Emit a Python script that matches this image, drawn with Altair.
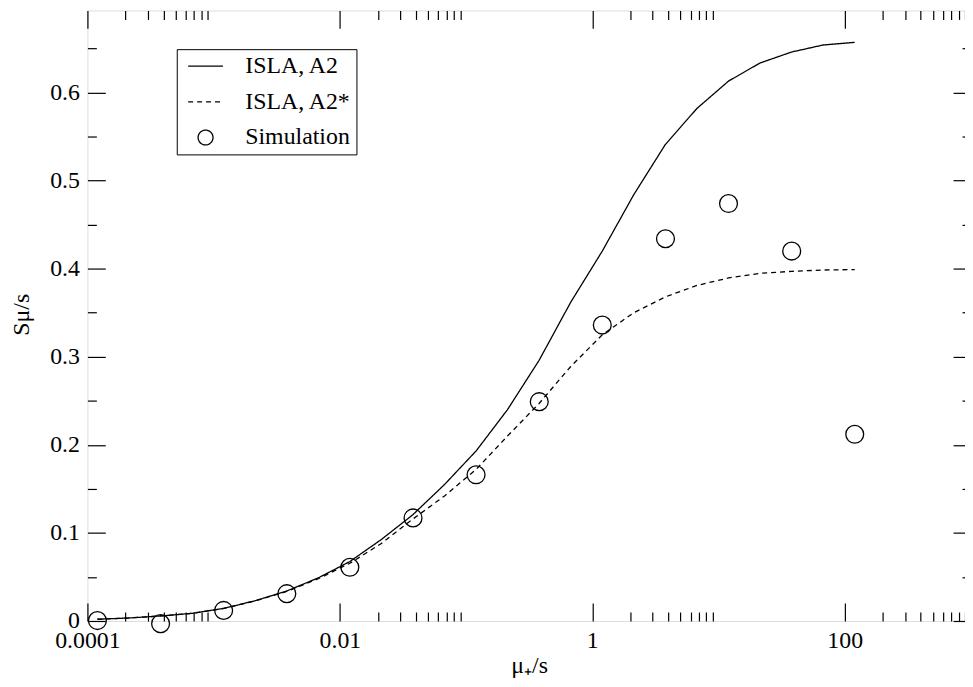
import altair as alt
import pandas as pd

# ---- data ----
x_grid = [0.00012, 0.000213, 0.000379, 0.000675, 0.0012, 0.00213, 0.00379, 0.00675,
          0.012, 0.0213, 0.0379, 0.0675, 0.12, 0.213, 0.379, 0.675,
          1.2, 2.13, 3.79, 6.75, 12, 21.3, 37.9, 67.5, 120]
isla_a2 = [0.002, 0.0034, 0.0057, 0.0087, 0.0143, 0.023, 0.034, 0.049,
           0.0675, 0.0925, 0.1207, 0.155, 0.193, 0.240, 0.296, 0.362,
           0.420, 0.484, 0.541, 0.582, 0.613, 0.6335, 0.646, 0.654, 0.657]
isla_a2_star = [0.002, 0.0034, 0.0057, 0.0087, 0.0142, 0.0228, 0.0335, 0.048,
                0.0655, 0.088, 0.1158, 0.142, 0.172, 0.210, 0.247, 0.289,
                0.325, 0.350, 0.368, 0.381, 0.3895, 0.3947, 0.397, 0.3985, 0.399]
sim_x = [0.00012, 0.00038, 0.0012, 0.0038, 0.012, 0.038, 0.12, 0.38, 1.2, 3.8, 12, 38, 120]
sim_y = [0.0005, -0.003, 0.012, 0.031, 0.061, 0.117, 0.166, 0.249, 0.336, 0.434, 0.474, 0.42, 0.212]

names = ["ISLA, A2", "ISLA, A2*", "Simulation"]

x_major = [0.0001, 0.01, 1, 100]
x_minor = [0.0002, 0.0003, 0.0004, 0.0005, 0.0006, 0.0007, 0.0008, 0.0009,
           0.02, 0.03, 0.04, 0.05, 0.06, 0.07, 0.08, 0.09,
           2, 3, 4, 5, 6, 7, 8, 9,
           200, 300, 400, 500, 600, 700, 800, 900]
y_labels = [0, 0.1, 0.2, 0.3, 0.4, 0.5, 0.6]
y_minor = [0.05, 0.15, 0.25, 0.35, 0.45, 0.55, 0.65]

line_df = pd.DataFrame({
    "x": x_grid + x_grid,
    "y": isla_a2 + isla_a2_star,
    "series": [names[0]] * len(x_grid) + [names[1]] * len(x_grid),
})
sim_df = pd.DataFrame({"x": sim_x, "y": sim_y, "series": [names[2]] * len(sim_x)})

# ---- layout ----
W, H = 890, 615
FONT = "Liberation Serif"
xs = alt.Scale(type="log", domain=[1e-4, 1e3], nice=False)
ys = alt.Scale(domain=[0, 0.6932], nice=False, zero=False)

LINE = "M-2,0L2,0"
CIRC = "M0.857,0A0.857,0.857,0,1,1,-0.857,0A0.857,0.857,0,1,1,0.857,0Z"


def tick_axis(orient, values, size):
    off = -H if orient in ("top", "bottom") else -W
    return alt.Axis(orient=orient, offset=off, values=values, ticks=True,
                    tickSize=size, tickColor="black", tickWidth=1.2,
                    labels=False, domain=False, grid=False, title=None)


x_label_axis = alt.Axis(
    orient="bottom", values=x_major, ticks=False, tickSize=0, domain=False, grid=False,
    labelFont=FONT, labelFontSize=24, labelColor="black", labelBaseline="alphabetic",
    labelPadding=27, labelFlush=False, labelOverlap=False,
    labelExpr="datum.value < 0.001 ? '0.0001' : datum.value < 0.1 ? '0.01' : datum.value < 10 ? '1' : '100'",
    title="μ₊/s", titleFont=FONT, titleFontSize=24, titleFontWeight="normal",
    titleColor="black", titleX=445, titleY=52, titleBaseline="alphabetic", titleAlign="center",
)
y_label_axis = alt.Axis(
    orient="left", values=y_labels, ticks=False, tickSize=0, domain=False, grid=False,
    labelFont=FONT, labelFontSize=24, labelColor="black", labelBaseline="middle",
    labelPadding=8, labelFlush=False, labelOverlap=False, format=".1~f",
    title="Sμ/s", titleFont=FONT, titleFontSize=24, titleFontWeight="normal",
    titleColor="black", titleX=-59, titleY=306, titleAngle=270,
    titleBaseline="alphabetic", titleAlign="center",
)

leg = alt.Legend(
    title=None, orient="none", legendX=90, legendY=39,
    strokeColor="black", fillColor="white", padding=5, rowPadding=12,
    symbolOffset=12,
    labelFont=FONT, labelFontSize=24, labelColor="black", labelOffset=28, labelLimit=400,
    symbolSize=306, symbolStrokeColor="black", symbolStrokeWidth=1.3,
    symbolFillColor="transparent", cornerRadius=0,
)


def X(axis):
    return alt.X("x:Q", scale=xs, axis=axis)


def Y(axis):
    return alt.Y("y:Q", scale=ys, axis=axis)


lines = alt.Chart(line_df).mark_line(color="black", strokeWidth=1.3).encode(
    x=X(x_label_axis),
    y=Y(y_label_axis),
    strokeDash=alt.StrokeDash("series:N",
                              scale=alt.Scale(domain=names, range=[[1, 0], [5, 4], [1, 0]]),
                              legend=leg),
)

points = alt.Chart(sim_df).mark_point(filled=False, size=441, color="black",
                                      strokeWidth=1.3, opacity=1).encode(
    x=X(tick_axis("top", x_major, 18)),
    y=Y(tick_axis("right", y_labels, 18)),
    shape=alt.Shape("series:N", scale=alt.Scale(domain=names, range=[LINE, LINE, CIRC]),
                    legend=leg),
)

inv1 = alt.Chart(sim_df).mark_point(opacity=0).encode(
    x=X(tick_axis("top", x_minor, 9)),
    y=Y(tick_axis("right", y_minor, 9)),
)
inv2 = alt.Chart(sim_df).mark_point(opacity=0).encode(
    x=X(tick_axis("bottom", x_major, 18)),
    y=Y(tick_axis("left", y_labels, 18)),
)
inv3 = alt.Chart(sim_df).mark_point(opacity=0).encode(
    x=X(tick_axis("bottom", x_minor, 9)),
    y=Y(tick_axis("left", y_minor, 9)),
)

chart = alt.layer(lines, points, inv1, inv2, inv3).resolve_axis(
    x="independent", y="independent"
).properties(
    width=W, height=H,
    autosize=alt.AutoSizeParams(type="none"),
    padding={"left": 80, "top": 0, "right": -6, "bottom": 62},
).configure_view(
    stroke="black", strokeWidth=1.2
).configure(background="white")

chart.save("out.html", embed_options={"renderer": "svg", "actions": False})
